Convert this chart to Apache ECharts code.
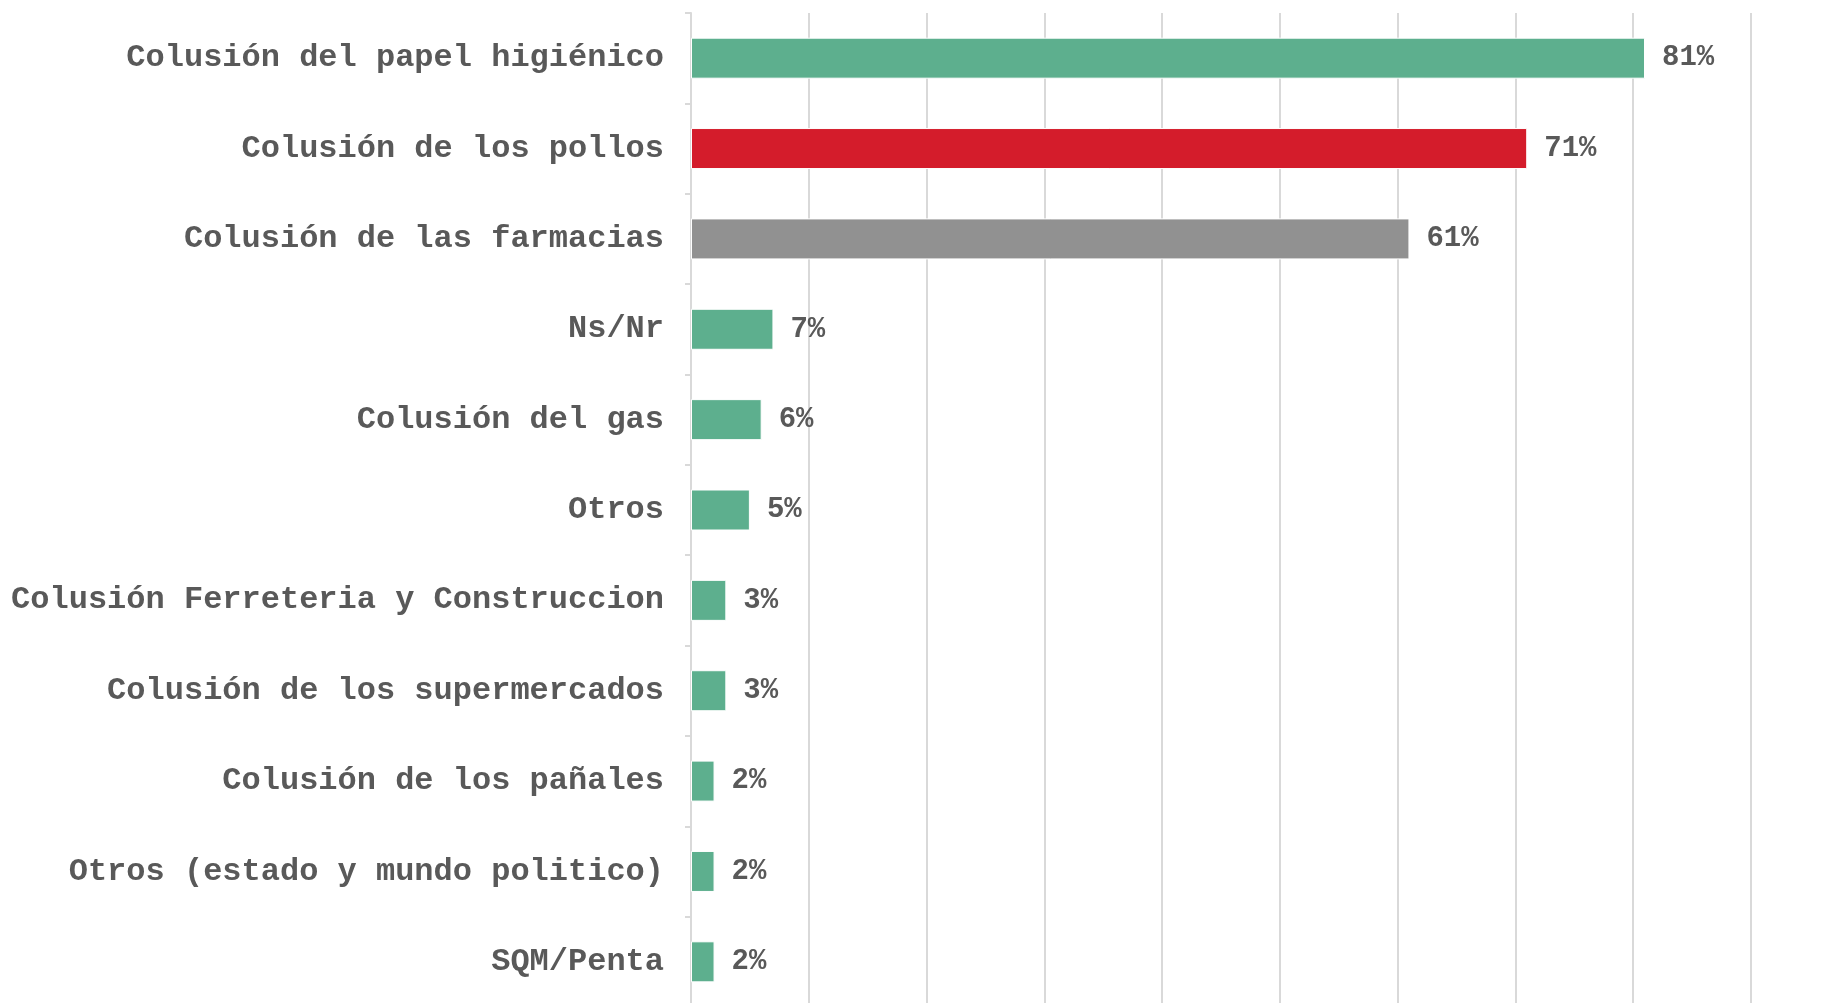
<!DOCTYPE html>
<html>
<head>
<meta charset="utf-8">
<script src="https://cdn.jsdelivr.net/npm/echarts@6/dist/echarts.min.js"></script>
<style>
  html, body { margin: 0; padding: 0; background: #fff; overflow: hidden; }
  #main { width: 1842px; height: 1012px; }
</style>
</head>
<body>
<div id="main"></div>
<script>
// categories, top to bottom
const categories = [
  'Colusión del papel higiénico',
  'Colusión de los pollos',
  'Colusión de las farmacias',
  'Ns/Nr',
  'Colusión del gas',
  'Otros',
  'Colusión Ferreteria y Construccion',
  'Colusión de los supermercados',
  'Colusión de los pañales',
  'Otros (estado y mundo politico)',
  'SQM/Penta'
];
// percentages
const values = [81, 71, 61, 7, 6, 5, 3, 3, 2, 2, 2];
const barColors = ['#5DAF8E', '#D41C2B', '#919191', '#5DAF8E', '#5DAF8E', '#5DAF8E',
  '#5DAF8E', '#5DAF8E', '#5DAF8E', '#5DAF8E', '#5DAF8E'];

const textColor = '#595959';
const monoFont = '"Liberation Mono", "Courier New", monospace';

let option = {
  animation: false,
  grid: {
    left: 691,
    right: 91,
    top: 13,
    height: 994
  },
  xAxis: {
    type: 'value',
    min: 0,
    max: 90,
    interval: 10,
    axisLabel: { show: false },
    axisLine: { show: false },
    axisTick: { show: false },
    splitLine: {
      show: true,
      lineStyle: { color: '#d9d9d9', width: 2 }
    }
  },
  yAxis: {
    type: 'category',
    inverse: true,
    data: categories,
    axisLine: { show: true, lineStyle: { color: '#d9d9d9', width: 2 } },
    axisTick: { show: true, length: 6, lineStyle: { color: '#d9d9d9', width: 2 } },
    axisLabel: {
      margin: 27,
      color: textColor,
      fontFamily: monoFont,
      fontWeight: 'bold',
      fontSize: 32
    }
  },
  series: [
    {
      type: 'bar',
      barWidth: 41,
      data: values.map((v, i) => ({ value: v, itemStyle: { color: barColors[i] } })),
      itemStyle: { borderColor: '#ffffff', borderWidth: 1 },
      label: {
        show: true,
        position: 'right',
        distance: 17,
        formatter: '{c}%',
        color: textColor,
        fontFamily: monoFont,
        fontWeight: 'bold',
        fontSize: 29
      }
    }
  ]
};

let chartDom = document.getElementById('main');
let myChart = echarts.init(chartDom);
option && myChart.setOption(option);
</script>
</body>
</html>
